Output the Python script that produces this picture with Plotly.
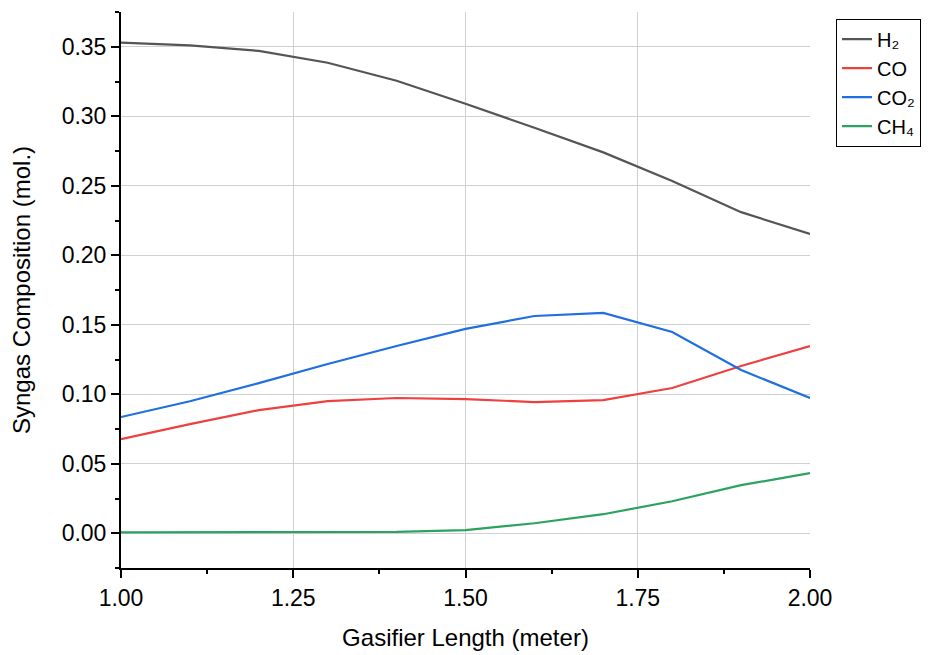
import plotly.graph_objects as go

length = [1.0, 1.1, 1.2, 1.3, 1.4, 1.5, 1.6, 1.7, 1.8, 1.9, 2.0]
h2 = [0.353, 0.351, 0.347, 0.3385, 0.3255, 0.309, 0.2917, 0.274, 0.2535, 0.231, 0.2153]
co = [0.0677, 0.0785, 0.0886, 0.0951, 0.0973, 0.0965, 0.0944, 0.0958, 0.1045, 0.1203, 0.1347]
co2 = [0.0836, 0.095, 0.108, 0.1218, 0.1347, 0.147, 0.1563, 0.1585, 0.1448, 0.1174, 0.0973]
ch4 = [0.0007, 0.0008, 0.001, 0.001, 0.001, 0.0022, 0.0072, 0.0137, 0.023, 0.0346, 0.0432]

names = ["H₂", "CO", "CO₂", "CH₄"]
colors = ["#555555", "#ef4040", "#1f6fe0", "#2ca25f"]

fig = go.Figure()
for name, ys, c in zip(names, [h2, co, co2, ch4], colors):
    fig.add_trace(go.Scatter(x=length, y=ys, mode="lines", name=name,
                             line=dict(color=c, width=2.2)))

font = "Arial"
fig.update_layout(
    width=930, height=655,
    margin=dict(l=121, r=120, t=12, b=87, autoexpand=False),
    plot_bgcolor="white", paper_bgcolor="white",
    font=dict(family=font, size=23, color="black"),
    showlegend=True,
    legend=dict(x=1.0377, y=0.988, xanchor="left", yanchor="top",
                bordercolor="black", borderwidth=1, bgcolor="white",
                font=dict(family=font, size=20, color="black"), tracegroupgap=0),
    xaxis=dict(range=[1.0, 2.0], tickvals=[1.0, 1.25, 1.5, 1.75, 2.0],
               ticktext=["1.00", "1.25", "1.50", "1.75", "2.00"],
               tickfont=dict(family=font, size=23, color="black"),
               showgrid=True, gridcolor="#d0d0d0", gridwidth=1,
               showline=True, linecolor="black", linewidth=2,
               ticks="outside", ticklen=8, tickwidth=2, tickcolor="black",
               minor=dict(dtick=0.125, tick0=1.0, ticks="outside", ticklen=4, tickwidth=1.5, tickcolor="black", showgrid=False),
               zeroline=False,
               title=dict(text="Gasifier Length (meter)", standoff=20, font=dict(family=font, size=24, color="black"))),
    yaxis=dict(range=[-0.025, 0.375], tickvals=[0, 0.05, 0.1, 0.15, 0.2, 0.25, 0.3, 0.35],
               ticktext=["0.00", "0.05", "0.10", "0.15", "0.20", "0.25", "0.30", "0.35"],
               tickfont=dict(family=font, size=23, color="black"),
               showgrid=True, gridcolor="#d0d0d0", gridwidth=1,
               showline=True, linecolor="black", linewidth=2,
               ticks="outside", ticklen=8, tickwidth=2, tickcolor="black",
               minor=dict(dtick=0.025, tick0=0, ticks="outside", ticklen=4, tickwidth=1.5, tickcolor="black", showgrid=False),
               zeroline=False,
               title=dict(text="Syngas Composition (mol.)", standoff=24, font=dict(family=font, size=24, color="black"))),
)
fig.write_html("out.html")
